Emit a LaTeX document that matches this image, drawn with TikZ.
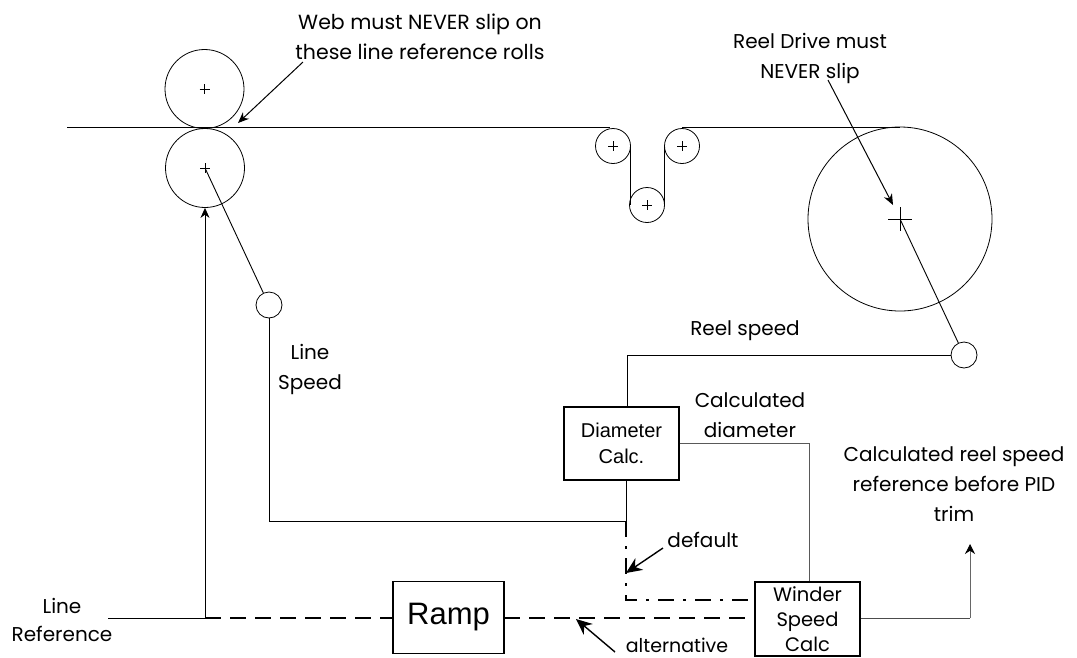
\documentclass[tikz,border=0pt]{standalone}
\usepackage{fontspec}
\setmainfont{Poppins}
\newfontfamily\arialf{Liberation Sans}
\usetikzlibrary{arrows.meta}
\tikzset{
  x=1pt,y=-1pt,
  lbl/.style={align=center,inner sep=0pt,font=\fontsize{20}{30}\selectfont,text=black},
  roll/.style={draw,circle,inner sep=0pt,minimum size=79pt,line width=.8pt},
  idler/.style={draw,circle,inner sep=0pt,minimum size=35pt,line width=.8pt},
  sensor/.style={draw,circle,inner sep=0pt,minimum size=26pt,line width=.8pt},
  blockbox/.style={draw,inner sep=0pt,line width=1.2pt,align=center},
  wire/.style={line width=.9pt},
  pointer/.style={line width=1pt,-{Stealth[length=11pt,width=9pt]}},
  bigpointer/.style={line width=1.4pt,-{Stealth[length=16pt,width=14pt]}},
  dashline/.style={line width=1.2pt,dash pattern=on 16pt off 9pt},
  dotline/.style={line width=1.1pt,dash pattern=on 16pt off 9pt on 3pt off 9pt},
}
\newcommand{\crossat}[2]{\draw[line width=.7pt] (#1.center) ++(-#2,0) -- ++(2*#2,0) (#1.center) ++(0,-#2) -- ++(0,2*#2);}
\begin{document}
\begin{tikzpicture}
\useasboundingbox (0,0) rectangle (1077,657);
% rolls
\node[roll] (top) at (204.5,89) {};
\node[roll] (bot) at (205,168) {};
\node[idler] (i1) at (613,146) {};
\node[idler] (i2) at (682,146) {};
\node[idler] (i3) at (647,205) {};
\node[draw,circle,inner sep=0pt,minimum size=184pt,line width=.8pt] (reel) at (900,219) {};
\crossat{top}{5}\crossat{bot}{5}\crossat{i1}{5}\crossat{i2}{5}\crossat{i3}{5}\crossat{reel}{12}
% sensors
\node[sensor] (s1) at (269,305) {};
\node[sensor] (s2) at (964,355) {};
% blocks
\node[blockbox,minimum width=115pt,minimum height=73pt,font=\arialf\fontsize{20}{26}\selectfont] (diam) at (621.5,443.5) {Diameter\\Calc.};
\node[blockbox,minimum width=111pt,minimum height=72pt,font=\arialf\fontsize{31}{36}\selectfont] (ramp) at (448.5,617.5) {Ramp};
\node[blockbox,minimum width=105pt,minimum height=74pt,font=\fontsize{19.5}{25}\selectfont] (wind) at (807.5,619) {Winder\\Speed\\Calc};
% coordinates
\coordinate (webL) at (67,127);
\coordinate (webA) at (610,127);
\coordinate (webB) at (682,127);
\coordinate (webC) at (900,127);
\coordinate (junL) at (205,618);
\coordinate (refS) at (108,618);
\coordinate (junD) at (626,521);
\coordinate (elbS) at (269,521);
\coordinate (elbR) at (627,355);
\coordinate (elbD) at (809,443);
\coordinate (elbDef) at (626,600);
\coordinate (defE) at (755,600);
\coordinate (rampOut) at (504,618);
\coordinate (windIn) at (755,618);
\coordinate (outE) at (970,618);
\coordinate (outT) at (970,544);
% web
\draw[wire] (webL) -- (webA);
\draw[wire] (webB) -- (webC);
\draw[wire] (630,146) -- (630,205);
\draw[wire] (664,146) -- (664,205);
% connectors
\draw[line width=.9pt] (bot.center) -- (s1);
\draw[line width=.9pt] (reel.center) -- (s2);
\draw[wire] (s1) -- (elbS) -- (junD) -- (diam.south -| junD);
\draw[wire] (s2) -- (elbR) -- (diam.north -| elbR);
\draw[wire,black!65] (diam.east |- elbD) -- (elbD) -- (wind.north -| elbD);
\draw[wire] (refS) -- (junL);
\draw[wire,-{Stealth[length=10pt,width=9pt]}] (junL) -- (bot.south);
\draw[dashline] (junL) -- (ramp.west |- junL);
\draw[dashline] (rampOut) -- (windIn);
\draw[dotline] (junD) -- (elbDef) -- (defE);
\draw[wire,black!70] (wind.east |- outE) -- (outE);
\draw[wire,black!60,{Stealth[length=10pt,width=10pt,black]}-] (outT) -- (outE);
% labels
\node[lbl,font=\fontsize{20.5}{30}\selectfont] (t1) at (420,37) {Web must NEVER slip on\\these line reference rolls};
\node[lbl] (t2) at (810,58) {Reel Drive must\\NEVER slip};
\node[lbl] (t3) at (745,331) {Reel speed};
\node[lbl] (t4) at (310,369) {Line\\Speed};
\node[lbl] (t5) at (750,415) {Calculated\\diameter};
\node[lbl] (t6) at (954,484) {Calculated reel speed\\reference before PID\\trim};
\node[lbl,font=\fontsize{20}{28}\selectfont] (t7) at (62,620) {Line\\Reference};
\node[lbl] (t8) at (703,540) {default};
\node[lbl,font=\fontsize{19}{30}\selectfont] (t9) at (677,645) {alternative};
% pointers
\coordinate (p1s) at (303,62); \coordinate (p1e) at (238,123);
\coordinate (p2s) at (828,80); \coordinate (p2e) at (893,205);
\coordinate (p3s) at (663,548); \coordinate (p3e) at (626,573);
\coordinate (p4s) at (615,652); \coordinate (p4e) at (576,619);
\draw[pointer] (p1s) -- (p1e);
\draw[pointer] (p2s) -- (p2e);
\draw[bigpointer] (p3s) -- (p3e);
\draw[bigpointer] (p4s) -- (p4e);
\end{tikzpicture}
\end{document}
